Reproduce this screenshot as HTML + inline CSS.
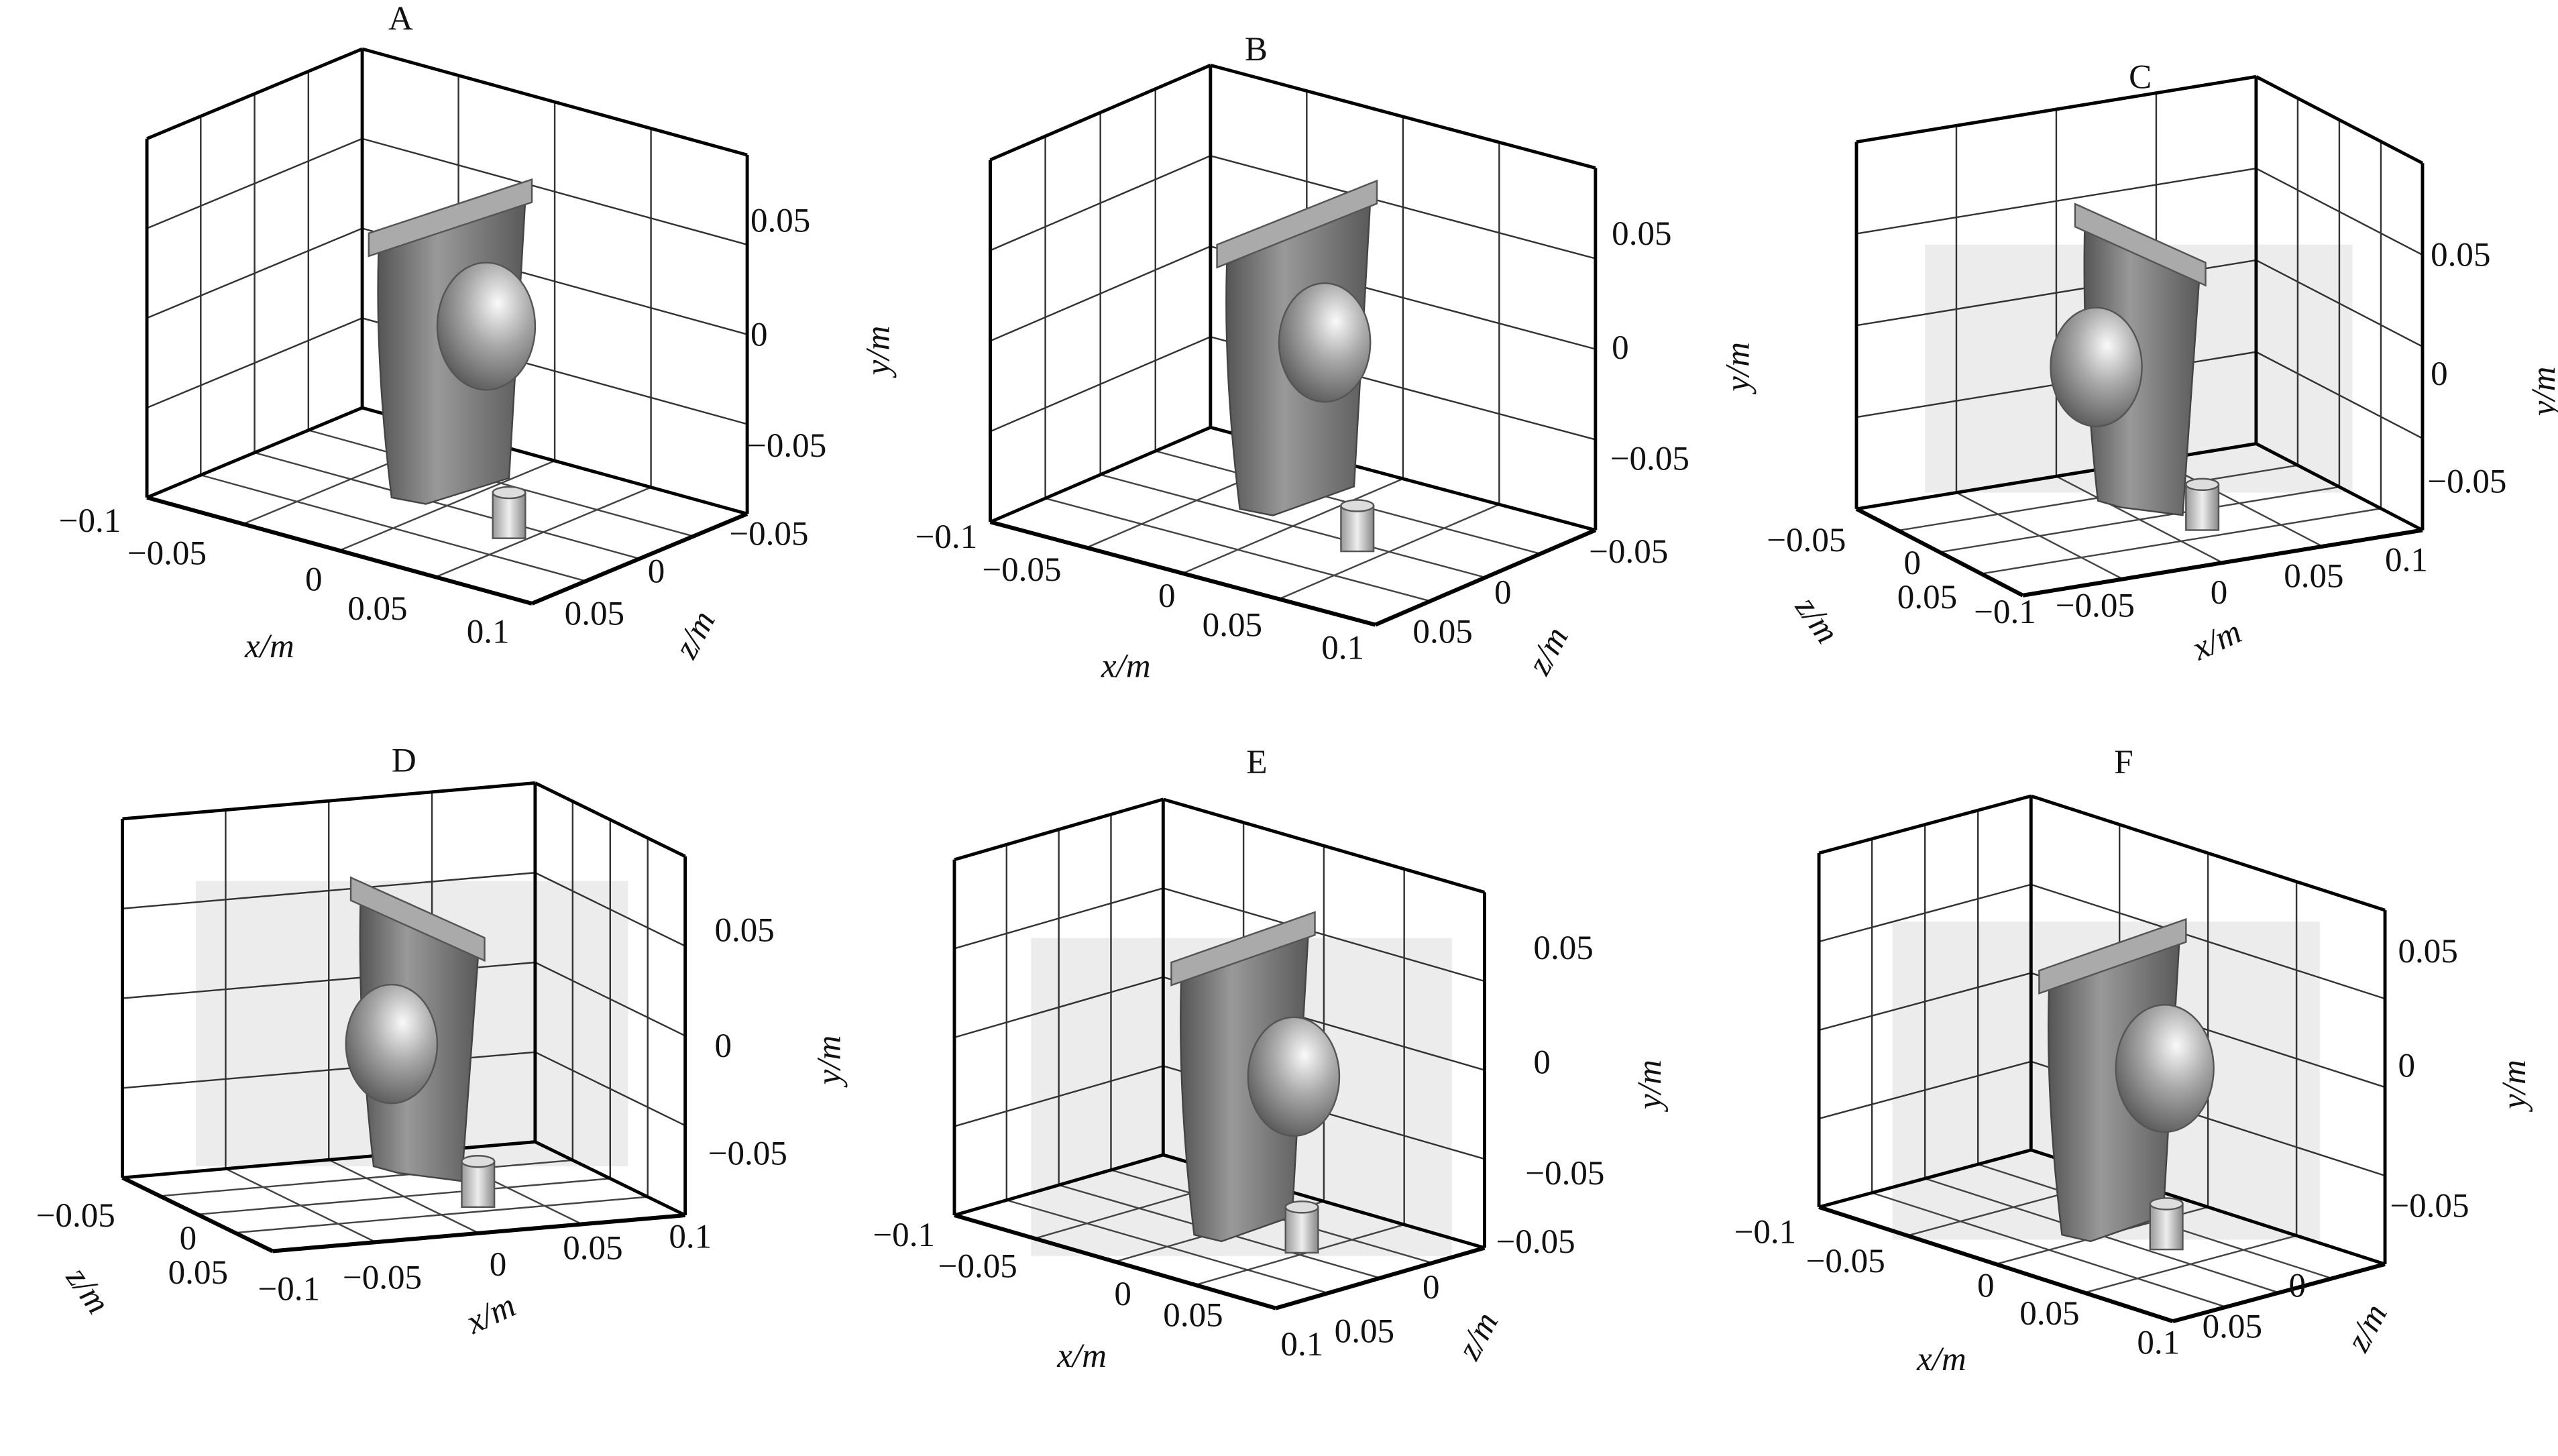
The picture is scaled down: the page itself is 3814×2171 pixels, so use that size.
<!DOCTYPE html>
<html><head><meta charset="utf-8"><style>
html,body{margin:0;padding:0;background:#fff;}
svg{display:block;}
text{font-family:"Liberation Serif",serif;font-size:21px;fill:#111;}
.i{font-style:italic;}
</style></head><body>
<svg id="s" width="3814" height="2171" viewBox="0 0 1568 892.6" xmlns="http://www.w3.org/2000/svg">
<defs>
<radialGradient id="ball" cx="0.62" cy="0.32" r="0.75"><stop offset="0" stop-color="#fafafa"/><stop offset="0.45" stop-color="#a8a8a8"/><stop offset="1" stop-color="#555"/></radialGradient>
<linearGradient id="plate" x1="0" x2="1"><stop offset="0" stop-color="#555"/><stop offset="0.4" stop-color="#999"/><stop offset="1" stop-color="#5a5a5a"/></linearGradient>
<linearGradient id="cyl" x1="0" x2="1"><stop offset="0" stop-color="#999"/><stop offset="0.5" stop-color="#eee"/><stop offset="1" stop-color="#888"/></linearGradient>
</defs>
<rect x="1180" y="150" width="262" height="152" fill="#ececec"/>
<rect x="120" y="540" width="265" height="175" fill="#ececec"/>
<rect x="632" y="575" width="258" height="195" fill="#ececec"/>
<rect x="1160" y="565" width="262" height="195" fill="#ececec"/>
<g id="g"></g>
<text x="238" y="18">A</text><text x="763" y="37">B</text><text x="1305" y="54">C</text>
<text x="240" y="473">D</text><text x="764" y="474">E</text><text x="1296" y="474">F</text>
<text x="460" y="142">0.05</text><text x="460" y="212">0</text><text x="458" y="280">−0.05</text>
<text class="i" transform="translate(545,230) rotate(-90)">y/m</text>
<text x="36" y="326">−0.1</text><text x="78" y="346">−0.05</text><text x="187" y="362">0</text><text x="213" y="380">0.05</text><text x="286" y="394">0.1</text>
<text class="i" x="150" y="403">x/m</text>
<text x="447" y="334">−0.05</text><text x="397" y="357">0</text><text x="346" y="383">0.05</text>
<text class="i" transform="translate(425,405) rotate(-62)">z/m</text>
<text x="988" y="150">0.05</text><text x="988" y="220">0</text><text x="987" y="288">−0.05</text>
<text class="i" transform="translate(1072,240) rotate(-90)">y/m</text>
<text x="561" y="336">−0.1</text><text x="602" y="356">−0.05</text><text x="710" y="372">0</text><text x="737" y="390">0.05</text><text x="810" y="404">0.1</text>
<text class="i" x="675" y="415">x/m</text>
<text x="974" y="345">−0.05</text><text x="916" y="370">0</text><text x="866" y="394">0.05</text>
<text class="i" transform="translate(948,415) rotate(-62)">z/m</text>
<text x="1490" y="163">0.05</text><text x="1490" y="236">0</text><text x="1488" y="302">−0.05</text>
<text class="i" transform="translate(1566,255) rotate(-90)">y/m</text>
<text x="1083" y="338">−0.05</text><text x="1167" y="352">0</text><text x="1163" y="373">0.05</text>
<text x="1210" y="382">−0.1</text><text x="1260" y="378">−0.05</text><text x="1355" y="370">0</text><text x="1400" y="360">0.05</text><text x="1462" y="350">0.1</text>
<text class="i" transform="translate(1100,372) rotate(55)">z/m</text>
<text class="i" transform="translate(1348,405) rotate(-25)">x/m</text>
<text x="438" y="577">0.05</text><text x="438" y="648">0</text><text x="434" y="714">−0.05</text>
<text class="i" transform="translate(515,665) rotate(-90)">y/m</text>
<text x="22" y="752">−0.05</text><text x="110" y="766">0</text><text x="103" y="787">0.05</text>
<text x="158" y="797">−0.1</text><text x="210" y="790">−0.05</text><text x="300" y="782">0</text><text x="345" y="772">0.05</text><text x="410" y="765">0.1</text>
<text class="i" transform="translate(40,783) rotate(55)">z/m</text>
<text class="i" transform="translate(290,818) rotate(-25)">x/m</text>
<text x="940" y="588">0.05</text><text x="940" y="658">0</text><text x="935" y="726">−0.05</text>
<text class="i" transform="translate(1018,680) rotate(-90)">y/m</text>
<text x="535" y="764">−0.1</text><text x="575" y="783">−0.05</text><text x="683" y="800">0</text><text x="713" y="813">0.05</text><text x="785" y="831">0.1</text>
<text class="i" x="648" y="838">x/m</text>
<text x="917" y="768">−0.05</text><text x="872" y="796">0</text><text x="818" y="823">0.05</text>
<text class="i" transform="translate(905,835) rotate(-62)">z/m</text>
<text x="1470" y="590">0.05</text><text x="1470" y="660">0</text><text x="1465" y="746">−0.05</text>
<text class="i" transform="translate(1548,680) rotate(-90)">y/m</text>
<text x="1063" y="762">−0.1</text><text x="1107" y="780">−0.05</text><text x="1212" y="795">0</text><text x="1238" y="812">0.05</text><text x="1310" y="830">0.1</text>
<text class="i" x="1175" y="840">x/m</text>
<text x="1403" y="795">0</text><text x="1350" y="820">0.05</text>
<text class="i" transform="translate(1450,830) rotate(-62)">z/m</text>
</svg>
<script>
var g=document.getElementById('g'),NS='http://www.w3.org/2000/svg';
function el(t,a){var e=document.createElementNS(NS,t);for(var k in a)e.setAttribute(k,a[k]);g.appendChild(e);return e;}
function L(p,q,w,c){el('line',{x1:p[0],y1:p[1],x2:q[0],y2:q[1],stroke:c||'#000','stroke-width':w||2});}
function ad(){var r=[0,0];for(var i=0;i<arguments.length;i++){r[0]+=arguments[i][0];r[1]+=arguments[i][1];}return r;}
function sc(v,s){return [v[0]*s,v[1]*s];}
function panel(O,a,b,h,m){
 for(var i=1;i<4;i++){var t=i/4;
  L(ad(O,sc(a,t)),ad(O,sc(a,t),h),1,'#333');L(ad(O,sc(h,t)),ad(O,a,sc(h,t)),1,'#333');
  L(ad(O,sc(b,t)),ad(O,sc(b,t),h),1,'#333');L(ad(O,sc(h,t)),ad(O,b,sc(h,t)),1,'#333');
  L(ad(O,sc(a,t)),ad(O,sc(a,t),b),1,'#444');L(ad(O,sc(b,t)),ad(O,sc(b,t),a),1,'#444');}
 L(O,ad(O,h),2);L(O,ad(O,a));L(O,ad(O,b));
 L(ad(O,a),ad(O,a,h));L(ad(O,b),ad(O,b,h));L(ad(O,h),ad(O,a,h));L(ad(O,h),ad(O,b,h));
 L(ad(O,a),ad(O,a,b),2.5);L(ad(O,b),ad(O,a,b),2.5);
 var x=m.px,y=m.py,w=m.pw,s=m.sl;
 el('path',{d:'M'+(x+6)+','+(y+12)+' L'+(x+w-4)+','+(y-w*s+12)+' L'+(x+w-14)+','+(y+m.ph-w*s*0.3)+' L'+(x+w*0.35)+','+(y+m.ph+6)+' L'+(x+14)+','+(y+m.ph+2)+' Q'+(x+4)+','+(y+m.ph*0.5)+' '+(x+6)+','+(y+12)+' z',fill:'url(#plate)',stroke:'#444','stroke-width':1});
 el('path',{d:'M'+x+','+y+' l'+w+','+(-w*s)+' l0,14 l'+(-w)+','+(w*s)+' z',fill:'#aaa',stroke:'#555','stroke-width':1});
 el('ellipse',{cx:m.bx,cy:m.by,rx:m.br,ry:m.br*1.3,fill:'url(#ball)',stroke:'#555','stroke-width':1});
 el('rect',{x:m.cx,y:m.cy,width:20,height:28,fill:'url(#cyl)',stroke:'#555','stroke-width':1});
 el('ellipse',{cx:m.cx+10,cy:m.cy,rx:10,ry:3.5,fill:'#ddd',stroke:'#555','stroke-width':1});
}
panel([222,250],[-132,55],[236,65],[0,-220],{px:226,py:143,pw:100,sl:0.33,ph:160,bx:298,by:200,br:30,cx:302,cy:302});
panel([742,262],[-135,58],[236,63],[0,-222],{px:746,py:150,pw:98,sl:0.4,ph:160,bx:812,by:210,br:28,cx:822,cy:310});
panel([1383,272],[-245,40],[102,53],[0,-225],{px:1272,py:125,pw:80,sl:-0.45,ph:180,bx:1285,by:225,br:28,cx:1340,cy:297});
panel([328,700],[-253,22],[92,45],[0,-220],{px:215,py:538,pw:82,sl:-0.45,ph:175,bx:240,by:640,br:28,cx:283,cy:712});
panel([713,708],[-128,37],[197,57],[0,-218],{px:718,py:590,pw:88,sl:0.35,ph:165,bx:793,by:660,br:28,cx:788,cy:740});
panel([1245,705],[-130,35],[217,70],[0,-217],{px:1250,py:595,pw:90,sl:0.35,ph:160,bx:1327,by:655,br:30,cx:1318,cy:738});
</script>
</body></html>
